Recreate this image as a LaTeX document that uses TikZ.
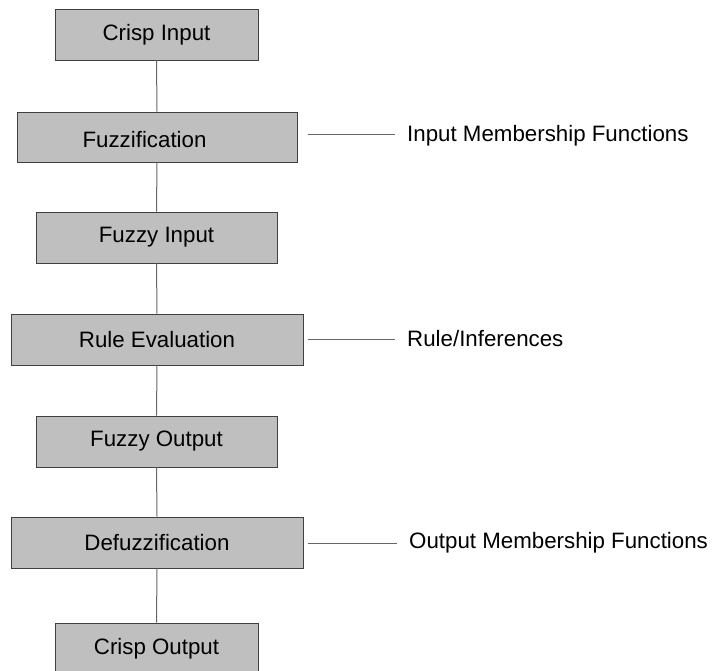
\documentclass[tikz,border=0pt]{standalone}
\usepackage{fontspec}
\setmainfont{Liberation Sans}
\begin{document}
\begin{tikzpicture}[x=1pt,y=-1pt,
  stage/.style={draw=black!75,fill=black!25,line width=0.9pt,inner sep=0pt,
    font=\fontsize{22.3}{26}\selectfont,anchor=center},
  link/.style={draw=black!60,line width=1pt},
  side/.style={anchor=west,inner xsep=12pt,inner ysep=0pt,font=\fontsize{22.3}{26}\selectfont}]
\useasboundingbox (0,0) rectangle (714,671);
\node[stage,minimum width=203,minimum height=51] (ci) at (156.5,34.5) {Crisp Input};
\node[stage,minimum width=280,minimum height=50,
  label={[font=\fontsize{22.3}{26}\selectfont,shift={(-12.5pt,-3pt)}]center:Fuzzification}] (fz) at (157,137) {};
\node[stage,minimum width=241,minimum height=51] (fi) at (156.5,237.5) {Fuzzy Input};
\node[stage,minimum width=292,minimum height=51] (re) at (157,339.5) {Rule Evaluation};
\node[stage,minimum width=241,minimum height=51] (fo) at (156.5,441.5) {Fuzzy Output};
\node[stage,minimum width=292,minimum height=51] (df) at (157,542.5) {Defuzzification};
\node[stage,minimum width=203,minimum height=51] (co) at (156.5,648.5) {Crisp Output};

\node[side] (imf) at (395,136) {Input Membership Functions};
\node[side] (ri) at (395,339) {Rule/Inferences};
\node[side] (omf) at (397,543) {Output Membership Functions};

\coordinate (a1) at (308,135);
\coordinate (a2) at (308,339);
\coordinate (a3) at (308,543);

\draw[link] (ci.south) -- (fz.north);
\draw[link] (fz.south) -- (fi.north);
\draw[link] (fi.south) -- (re.north);
\draw[link] (re.south) -- (fo.north);
\draw[link] (fo.south) -- (df.north);
\draw[link] (df.south) -- (co.north);

\draw[link] (a1) -- (a1 -| imf.west);
\draw[link] (a2) -- (a2 -| ri.west);
\draw[link] (a3) -- (a3 -| omf.west);
\end{tikzpicture}
\end{document}
